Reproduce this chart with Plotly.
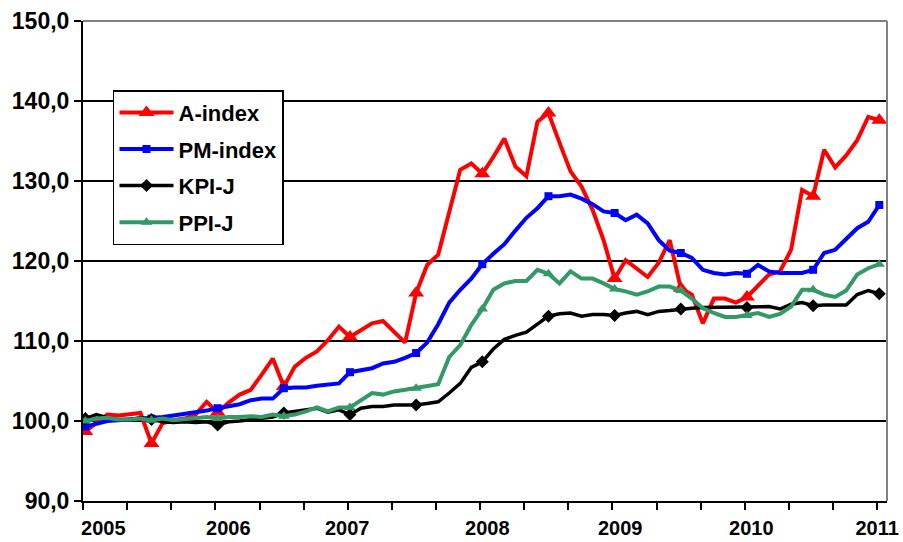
import plotly.graph_objects as go

months = list(range(73))

a_index = [98.7, 99.7, 100.8, 100.7, 100.9, 101.0, 97.2, 99.7, 100.1, 100.3, 100.8, 102.4,
           101.1, 102.3, 103.3, 103.9, 105.8, 107.8, 104.3, 106.8, 107.9, 108.7, 110.1, 111.8,
           110.5, 111.4, 112.2, 112.5, 111.2, 109.8, 116.0, 119.5, 120.8, 126.0, 131.4, 132.2,
           130.9, 133.0, 135.3, 131.8, 130.6, 137.4, 138.5, 134.8, 131.2, 129.3, 126.4, 122.6,
           117.8, 120.1, 119.1, 118.0, 119.8, 122.6, 116.6, 115.8, 112.2, 115.3, 115.3, 114.8,
           115.5, 116.9, 118.3, 118.7, 121.4, 128.9, 128.1, 133.9, 131.7, 133.2, 135.1, 138.0,
           137.6]

pm_index = [99.3, 99.6, 100.0, 100.1, 100.2, 100.3, 100.3, 100.5, 100.7, 100.9, 101.0, 101.3,
            101.6, 101.9, 102.1, 102.6, 102.8, 102.8, 104.1, 104.2, 104.2, 104.4, 104.6, 104.7,
            106.1, 106.4, 106.6, 107.2, 107.4, 107.9, 108.5, 109.8, 112.1, 114.8, 116.4, 117.8,
            119.6, 120.9, 122.1, 123.8, 125.4, 126.6, 128.1, 128.1, 128.3, 127.8, 127.1, 126.2,
            126.0, 125.1, 125.8, 124.7, 122.6, 121.3, 121.0, 120.4, 118.9, 118.5, 118.3, 118.5,
            118.4, 119.5, 118.7, 118.5, 118.5, 118.5, 118.9, 121.0, 121.4, 122.8, 124.1, 124.9,
            127.0]

kpi_j = [100.3, 100.8, 100.4, 100.2, 100.2, 100.4, 100.2, 99.9, 99.8, 99.9, 99.8, 99.9,
         99.5, 99.9, 100.0, 100.2, 100.3, 100.5, 101.0, 101.2, 101.4, 101.6, 101.1, 101.4,
         100.8, 101.6, 101.8, 101.8, 102.0, 102.0, 102.0, 102.2, 102.4, 103.5, 104.7, 106.7,
         107.4, 109.0, 110.2, 110.7, 111.1, 112.1, 113.1, 113.4, 113.5, 113.1, 113.3, 113.3,
         113.2, 113.5, 113.7, 113.3, 113.7, 113.8, 114.0, 114.1, 114.2, 114.2, 114.2, 114.2,
         114.2, 114.3, 114.3, 114.0, 114.6, 114.8, 114.4, 114.5, 114.5, 114.5, 115.8, 116.3,
         115.9]

ppi_j = [100.0, 100.3, 100.4, 100.2, 100.2, 100.3, 100.1, 100.3, 100.1, 100.2, 100.3, 100.5,
         100.3, 100.5, 100.5, 100.6, 100.5, 100.8, 100.6, 100.8, 101.2, 101.7, 101.2, 101.7,
         101.7, 102.6, 103.5, 103.3, 103.7, 103.9, 104.1, 104.3, 104.6, 108.0, 109.5, 112.0,
         114.0, 116.4, 117.2, 117.5, 117.5, 118.9, 118.4, 117.2, 118.7, 117.8, 117.8, 117.2,
         116.5, 116.2, 115.8, 116.2, 116.8, 116.8, 116.3, 115.3, 114.1, 113.5, 113.0, 113.0,
         113.2, 113.5, 113.0, 113.4, 114.3, 116.4, 116.4, 115.8, 115.5, 116.3, 118.3, 119.1,
         119.6]

series_names = ["A-index", "PM-index", "KPI-J", "PPI-J"]
year_labels = ["2005", "2006", "2007", "2008", "2009", "2010", "2011"]
year_label_pos = [1.63, 12.97, 23.75, 36.45, 48.5, 60.4, 71.8]
y_ticks = [90, 100, 110, 120, 130, 140, 150]

FONT = "Liberation Sans, Arial, sans-serif"

styles = [
    dict(color="#FF0000", symbol="triangle-up", size=14, width=4),
    dict(color="#0000FF", symbol="square", size=8, width=4),
    dict(color="#000000", symbol="diamond", size=10, width=3.5),
    dict(color="#339966", symbol="triangle-up", size=10, width=4),
]

fig = go.Figure()
for name, vals, st in zip(series_names, [a_index, pm_index, kpi_j, ppi_j], styles):
    mcolors = [st["color"] if m % 6 == 0 else "rgba(0,0,0,0)" for m in months]
    fig.add_trace(go.Scatter(
        x=months, y=vals, name=name, mode="lines+markers",
        legendgroup=name,
        line=dict(color=st["color"], width=st["width"]),
        marker=dict(symbol=st["symbol"], size=st["size"], color=mcolors,
                    line=dict(width=0)),
    ))

minor_vals = [4 * k - 0.2 for k in range(19)]

fig.update_layout(
    width=903, height=542,
    margin=dict(l=83, r=16, t=21, b=41, autoexpand=False),
    plot_bgcolor="white", paper_bgcolor="white",
    separators=", ",
    font=dict(family=FONT, size=20, color="black"),
    showlegend=True,
    legend=dict(
        x=0.0373, y=0.856, xanchor="left", yanchor="top",
        bgcolor="white", bordercolor="black", borderwidth=1.5,
        font=dict(family=FONT, size=22, color="black", weight="bold"),
        itemwidth=54, traceorder="grouped", tracegroupgap=5,
    ),
    xaxis=dict(
        range=[-0.21, 72.7],
        tickmode="array", tickvals=year_label_pos, ticktext=year_labels,
        ticks="", showgrid=False, zeroline=False,
        showline=True, linecolor="black", linewidth=2,
        tickfont=dict(family=FONT, size=20, color="black", weight="bold"),
        ticklabelstandoff=8,
        minor=dict(tickmode="array", tickvals=minor_vals, ticks="outside",
                   ticklen=7, tickwidth=2, tickcolor="black", showgrid=False),
        automargin=False,
    ),
    yaxis=dict(
        range=[90, 150], tickmode="array", tickvals=y_ticks,
        tickformat=".1f",
        ticks="outside", ticklen=7, tickwidth=2, tickcolor="black",
        showgrid=True, gridcolor="black", gridwidth=2,
        zeroline=False,
        showline=True, linecolor="black", linewidth=2,
        tickfont=dict(family=FONT, size=23, color="black", weight="bold"),
        automargin=False,
    ),
    shapes=[
        dict(type="line", xref="paper", yref="paper", x0=0, x1=1, y0=1, y1=1,
             line=dict(color="#808080", width=2)),
        dict(type="line", xref="paper", yref="paper", x0=1, x1=1, y0=0, y1=1,
             line=dict(color="#808080", width=2)),
    ],
)

fig.write_html("out.html", config={"displayModeBar": False},
               post_script="document.body.style.margin='0';")
